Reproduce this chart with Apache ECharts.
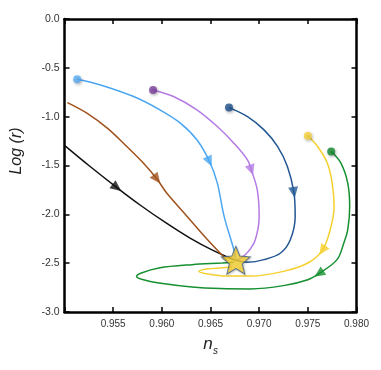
<!DOCTYPE html>
<html>
<head>
<meta charset="utf-8">
<script src="https://cdn.jsdelivr.net/npm/echarts@6/dist/echarts.min.js"></script>
<style>
  html, body { margin: 0; padding: 0; background: #fff; }
  #main { width: 381px; height: 370px; }
</style>
</head>
<body>
<div id="main"></div>
<script>
// trajectories in the (n_s, log r) plane, all ending at the attractor (star)
const lightBlue = [[0.9513,-0.616],[0.9537,-0.675],[0.9571,-0.794],[0.9598,-0.930],[0.9619,-1.066],[0.9636,-1.237],[0.9649,-1.459],[0.9657,-1.680],[0.9664,-2.021],[0.9674,-2.362],[0.9676,-2.47]];
const purple = [[0.9591,-0.726],[0.9612,-0.794],[0.9636,-0.930],[0.9657,-1.101],[0.9674,-1.271],[0.9688,-1.442],[0.9692,-1.547],[0.9698,-1.748],[0.9700,-2.021],[0.9696,-2.260],[0.9689,-2.379],[0.9681,-2.45],[0.9676,-2.47]];
const darkBlue = [[0.9669,-0.907],[0.9688,-0.999],[0.9705,-1.135],[0.9719,-1.306],[0.9729,-1.510],[0.97357,-1.776],[0.9737,-2.021],[0.9732,-2.260],[0.9722,-2.396],[0.9705,-2.464],[0.9688,-2.49],[0.9676,-2.47]];
const brown = [[0.9503,-0.856],[0.9523,-0.964],[0.9544,-1.118],[0.9564,-1.306],[0.9581,-1.475],[0.9595,-1.639],[0.9605,-1.782],[0.9626,-2.021],[0.9647,-2.260],[0.9667,-2.47]];
const black = [[0.9500,-1.294],[0.9526,-1.508],[0.95538,-1.726],[0.9578,-1.907],[0.9604,-2.086],[0.9629,-2.244],[0.9652,-2.367],[0.9676,-2.474]];
const yellow = [[0.9750,-1.196],[0.9760,-1.306],[0.9770,-1.475],[0.9775,-1.680],[0.9777,-1.919],[0.9773,-2.157],[0.97649,-2.369],[0.9750,-2.498],[0.9725,-2.584],[0.9691,-2.632],[0.9665,-2.632],[0.9648,-2.612],[0.9638,-2.585],[0.9646,-2.560],[0.9662,-2.548],[0.9672,-2.54]];
const green = [[0.9774,-1.357],[0.9784,-1.475],[0.9791,-1.680],[0.9793,-1.919],[0.9791,-2.157],[0.9787,-2.293],[0.9780,-2.464],[0.97614,-2.607],[0.9750,-2.669],[0.9725,-2.730],[0.9691,-2.764],[0.9660,-2.760],[0.9631,-2.743],[0.9597,-2.702],[0.9581,-2.670],[0.9574,-2.636],[0.9579,-2.600],[0.9597,-2.549],[0.9631,-2.515],[0.9662,-2.498],[0.9674,-2.49]];
const attractor = [[0.9676,-2.47]];

// curve, line colour, dot colour (null = no start dot), index of the arrow head
const trajectories = [
  { data: black,     color: '#111111', dot: null,      arrow: 2 },
  { data: brown,     color: '#a0521c', dot: null,      arrow: 5 },
  { data: lightBlue, color: '#4aa6f2', dot: '#5aacf4', arrow: 6 },
  { data: purple,    color: '#b47ae6', dot: '#7a3d9c', arrow: 6 },
  { data: darkBlue,  color: '#225794', dot: '#1d4f8c', arrow: 5 },
  { data: yellow,    color: '#f5d02c', dot: '#f5d23c', arrow: 6 },
  { data: green,     color: '#159030', dot: '#12892e', arrow: 7 }
];

const chart = echarts.init(document.getElementById('main'));
const font = "'Liberation Sans', Arial, sans-serif";

function starPath(rIn) {
  let d = '';
  for (let i = 0; i < 10; i++) {
    const a = (-90 + i * 36) * Math.PI / 180;
    const r = i % 2 ? rIn : 1;
    d += (i ? 'L' : 'M') + (r * Math.cos(a)).toFixed(4) + ' ' + (r * Math.sin(a)).toFixed(4) + ' ';
  }
  return 'path://' + d + 'Z';
}

function axisBase(pos) {
  return {
    position: pos,
    axisLine: { show: true, onZero: false, lineStyle: { color: '#000', width: 2.5 } },
    axisTick: { show: true, inside: true, length: 5, lineStyle: { color: '#000', width: 1.5 } },
    splitLine: { show: false }
  };
}

function buildOption(rot) {
  const series = [];
  trajectories.forEach((t, k) => {
    series.push({
      type: 'line', data: t.data, smooth: 0.35, showSymbol: false, silent: true,
      lineStyle: { color: t.color, width: 1.5 }, z: 2
    });
    series.push({
      type: 'scatter', symbol: 'triangle', symbolSize: [10, 11], silent: true,
      data: [{ value: t.data[t.arrow], symbolRotate: rot ? rot[k] : 0 }],
      itemStyle: { color: t.color }, z: 3
    });
    if (t.dot) {
      series.push({
        type: 'scatter', symbol: 'circle', symbolSize: 8, silent: true,
        data: [t.data[0]],
        itemStyle: { color: t.dot, shadowColor: 'rgba(0,0,0,0.35)', shadowBlur: 3, shadowOffsetX: 1, shadowOffsetY: 1.5 },
        z: 4
      });
    }
  });
  series.push({
    type: 'scatter', symbol: starPath(0.45), symbolSize: [29, 28], silent: true,
    data: attractor,
    itemStyle: { color: '#f8d030', borderColor: '#3c5b82', borderWidth: 1,
      shadowColor: 'rgba(0,0,0,0.2)', shadowBlur: 2, shadowOffsetX: 1, shadowOffsetY: 1 },
    z: 5
  });

  return {
    animation: false,
    backgroundColor: '#fff',
    grid: { left: 64.5, right: 24.5, top: 19, bottom: 58 },
    xAxis: [
      Object.assign(axisBase('bottom'), {
        type: 'value', min: 0.950, max: 0.980, interval: 0.005,
        axisLabel: { margin: 7, fontSize: 10, color: '#333', fontFamily: font,
          formatter: v => v < 0.9525 ? '' : v.toFixed(3) }
      }),
      Object.assign(axisBase('top'), {
        type: 'value', min: 0.950, max: 0.980, interval: 0.005, axisLabel: { show: false }
      })
    ],
    yAxis: [
      Object.assign(axisBase('left'), {
        type: 'value', min: -3, max: 0, interval: 0.5,
        axisLabel: { margin: 5, fontSize: 10.5, color: '#333', fontFamily: font,
          formatter: v => v.toFixed(1) }
      }),
      Object.assign(axisBase('right'), {
        type: 'value', min: -3, max: 0, interval: 0.5, axisLabel: { show: false }
      })
    ],
    graphic: [
      { type: 'text', x: 17, y: 151, rotation: Math.PI / 2, silent: true,
        style: { text: 'Log (r)', font: 'italic 16px ' + font, fill: '#222', align: 'center', verticalAlign: 'middle' } },
      { type: 'text', x: 208, y: 353, silent: true,
        style: { text: 'n', font: 'italic 17px ' + font, fill: '#222', align: 'center', verticalAlign: 'bottom' } },
      { type: 'text', x: 213, y: 356, silent: true,
        style: { text: 's', font: 'italic 10px ' + font, fill: '#222', align: 'left', verticalAlign: 'bottom' } }
    ],
    series: series
  };
}

chart.setOption(buildOption(null));

// orient each arrow head along the local direction of its curve (pixel space)
const rot = trajectories.map(t => {
  const i = t.arrow;
  const a = chart.convertToPixel({ gridIndex: 0 }, t.data[Math.max(i - 1, 0)]);
  const b = chart.convertToPixel({ gridIndex: 0 }, t.data[Math.min(i + 1, t.data.length - 1)]);
  return Math.atan2(-(b[1] - a[1]), b[0] - a[0]) * 180 / Math.PI - 90;
});
chart.setOption(buildOption(rot), true);
</script>
</body>
</html>
